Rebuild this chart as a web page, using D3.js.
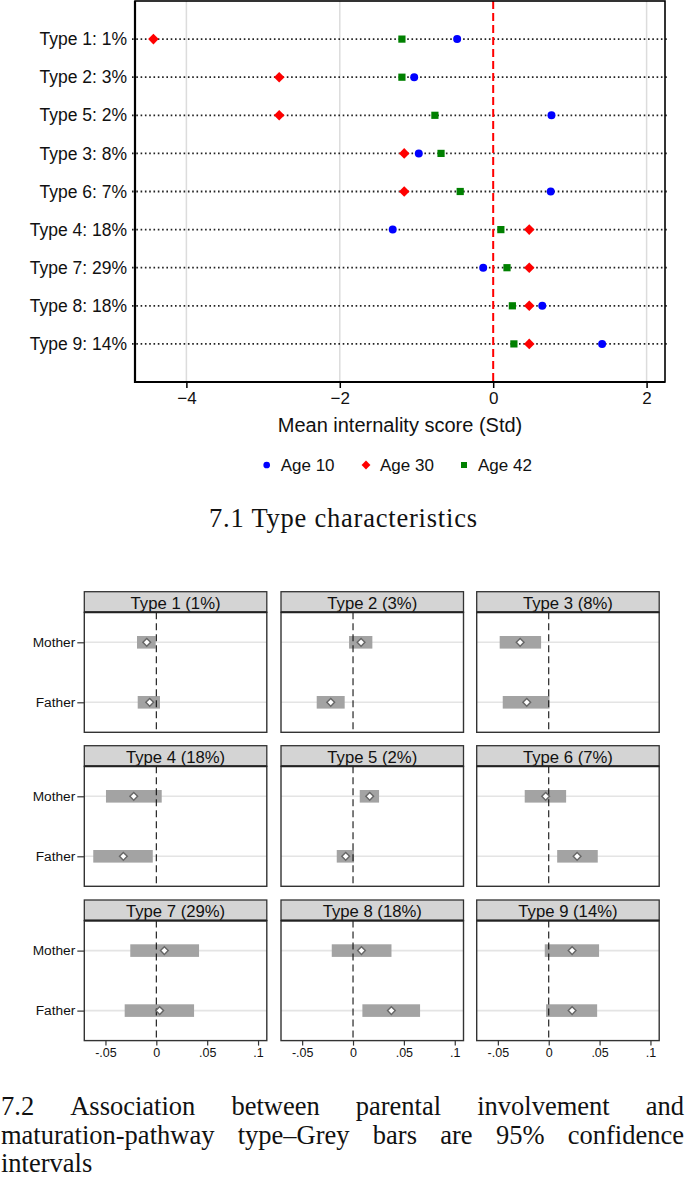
<!DOCTYPE html>
<html><head><meta charset="utf-8">
<script src="https://cdn.jsdelivr.net/npm/d3@7"></script>
<style>body{margin:0;background:#fff}svg{display:block}</style>
</head><body>
<svg id="c" width="685" height="1182"></svg>
<script>
// ---------- Data: top chart ----------
const types = ["Type 1: 1%","Type 2: 3%","Type 5: 2%","Type 3: 8%","Type 6: 7%","Type 4: 18%","Type 7: 29%","Type 8: 18%","Type 9: 14%"];
const age10 = [-0.47,-1.03,0.76,-0.97,0.75,-1.31,-0.13,0.64,1.42];
const age30 = [-4.43,-2.79,-2.79,-1.16,-1.16,0.47,0.47,0.47,0.47];
const age42 = [-1.19,-1.19,-0.76,-0.68,-0.43,0.10,0.18,0.25,0.27];
const xTicksTop = [-4,-2,0,2];
const seriesNames = ["Age 10","Age 30","Age 42"];

// ---------- Data: facets ----------
const facetTitles = ["Type 1 (1%)","Type 2 (3%)","Type 3 (8%)","Type 4 (18%)","Type 5 (2%)","Type 6 (7%)","Type 7 (29%)","Type 8 (18%)","Type 9 (14%)"];
const parents = ["Mother","Father"];
const motherEst = [-0.0094,0.0079,-0.0281,-0.0222,0.0164,-0.0030,0.0079,0.0083,0.0230];
const motherLo  = [-0.0190,-0.0039,-0.0482,-0.0495,0.0066,-0.0236,-0.0256,-0.0209,-0.0039];
const motherHi  = [-0.0006,0.0190,-0.0075,0.0053,0.0256,0.0171,0.0420,0.0378,0.0495];
const fatherEst = [-0.0065,-0.0219,-0.0216,-0.0324,-0.0072,0.0279,0.0033,0.0377,0.0230];
const fatherLo  = [-0.0183,-0.0357,-0.0452,-0.0620,-0.0160,0.0083,-0.0311,0.0092,-0.0026];
const fatherHi  = [0.0036,-0.0082,0.0007,-0.0035,0.0010,0.0482,0.0371,0.0659,0.0476];
const xTicksFacet = [-0.05,0,0.05,0.1];
const xTickLabelsFacet = ["-.05","0",".05",".1"];

const caption1 = "7.1 Type characteristics";
const caption2 = ["7.2 Association between parental involvement and","maturation-pathway type\u2013Grey bars are 95% confidence","intervals"];

const svg = d3.select("#c");
const SANS = "'Liberation Sans', Arial, sans-serif";
const SERIF = "'Liberation Serif', 'DejaVu Serif', serif";

// ---------- Top chart ----------
const T = {l:135, r:665, t:1, b:382};
const x = d3.scaleLinear().domain([-4.67,2.24]).range([T.l,T.r]);
const y = d3.scalePoint().domain(types).range([T.t,T.b]).padding(1);
const g = svg.append("g");

g.selectAll("line.grid").data(xTicksTop.filter(d=>d!==0)).join("line")
  .attr("x1",d=>x(d)).attr("x2",d=>x(d)).attr("y1",T.t).attr("y2",T.b)
  .attr("stroke","#dcdcdc").attr("stroke-width",1.5);

g.selectAll("line.row").data(types).join("line")
  .attr("x1",T.l-3).attr("x2",T.r+3).attr("y1",d=>y(d)).attr("y2",d=>y(d))
  .attr("stroke","#222").attr("stroke-width",1.8).attr("stroke-dasharray","1.6,2.7");

g.append("line").attr("x1",x(0)).attr("x2",x(0)).attr("y1",T.t).attr("y2",T.b)
  .attr("stroke","#ff0000").attr("stroke-width",2).attr("stroke-dasharray","8,4");

g.append("rect").attr("x",T.l).attr("y",T.t).attr("width",T.r-T.l).attr("height",T.b-T.t)
  .attr("fill","none").attr("stroke","#000").attr("stroke-width",1.6);
g.append("line").attr("x1",T.l).attr("x2",T.l).attr("y1",T.t).attr("y2",T.b+1).attr("stroke","#000").attr("stroke-width",2.2);
g.append("line").attr("x1",T.l-1).attr("x2",T.r).attr("y1",T.b).attr("y2",T.b).attr("stroke","#000").attr("stroke-width",2.2);

g.selectAll("text.yl").data(types).join("text")
  .attr("x",T.l-8).attr("y",d=>y(d)).attr("dy","0.35em").attr("text-anchor","end")
  .attr("font-family",SANS).attr("font-size",17.5).attr("fill","#111").text(d=>d);

const xa = g.append("g").attr("transform",`translate(0,${T.b})`)
  .call(d3.axisBottom(x).tickValues(xTicksTop).tickSize(6).tickPadding(4).tickFormat(d=>d<0?"\u2212"+Math.abs(d):d));
xa.select(".domain").remove();
xa.selectAll(".tick line").attr("stroke","#000").attr("stroke-width",1.5);
xa.selectAll("text").attr("font-family",SANS).attr("font-size",17).attr("fill","#111");
g.append("text").attr("x",400).attr("y",432).attr("text-anchor","middle")
  .attr("font-family",SANS).attr("font-size",20).attr("fill","#111").text("Mean internality score (Std)");

const symType = {"Age 10":d3.symbolCircle,"Age 30":d3.symbolSquare,"Age 42":d3.symbolSquare};
const symSize = {"Age 10":50,"Age 30":56,"Age 42":52};
const symRot = {"Age 10":0,"Age 30":45,"Age 42":0};
const col = {"Age 10":"#0000ff","Age 30":"#ff0000","Age 42":"#008000"};
const sData = {"Age 10":age10,"Age 30":age30,"Age 42":age42};
seriesNames.forEach(s=>{
  g.selectAll(null).data(sData[s]).join("path")
   .attr("d",d3.symbol().type(symType[s]).size(symSize[s])())
   .attr("transform",(d,i)=>`translate(${x(d)},${y(types[i])}) rotate(${symRot[s]})`)
   .attr("fill",col[s]);
});

// legend
const legX = [266.7,366,464];
const lg = svg.append("g");
seriesNames.forEach((s,i)=>{
  lg.append("path").attr("d",d3.symbol().type(symType[s]).size(symSize[s]*0.7)())
    .attr("transform",`translate(${legX[i]},465) rotate(${symRot[s]})`).attr("fill",col[s]);
  lg.append("text").attr("x",legX[i]+14).attr("y",465).attr("dy","0.35em")
    .attr("font-family",SANS).attr("font-size",17).attr("fill","#111").text(s);
});

// caption 1
svg.append("text").attr("x",209).attr("y",527)
  .attr("font-family",SERIF).attr("font-size",26.5).attr("fill","#111")
  .attr("textLength",268).attr("lengthAdjust","spacing").text(caption1);

// ---------- Facets ----------
const PW = 182.5, SH = 20.6, PH = 120;
const colL = [84.3,281,476.7];
const rowT = [591.7,745.7,900];
const fx = d3.scaleLinear().domain([-0.0708,0.1086]).range([0,PW]);
const fy = d3.scalePoint().domain(parents).range([0,PH]).padding(0.5);

facetTitles.forEach((title,k)=>{
  const c = k%3, r = Math.floor(k/3);
  const pg = svg.append("g").attr("transform",`translate(${colL[c]},${rowT[r]})`);
  pg.append("rect").attr("x",0).attr("y",0).attr("width",PW).attr("height",SH)
    .attr("fill","#d4d4d4").attr("stroke","#333").attr("stroke-width",1.3);
  pg.append("text").attr("x",PW/2).attr("y",SH/2+1).attr("dy","0.35em").attr("text-anchor","middle")
    .attr("font-family",SANS).attr("font-size",16.7).attr("fill","#111").text(title);
  const pl = pg.append("g").attr("transform",`translate(0,${SH})`);
  pl.selectAll("line.hg").data(parents).join("line")
    .attr("x1",0).attr("x2",PW).attr("y1",d=>fy(d)).attr("y2",d=>fy(d))
    .attr("stroke","#e4e4e4").attr("stroke-width",1.6);
  const rows = [
    {p:"Mother",lo:motherLo[k],hi:motherHi[k],e:motherEst[k]},
    {p:"Father",lo:fatherLo[k],hi:fatherHi[k],e:fatherEst[k]}
  ];
  pl.selectAll("rect.ci").data(rows).join("rect")
    .attr("x",d=>fx(d.lo)).attr("width",d=>fx(d.hi)-fx(d.lo))
    .attr("y",d=>fy(d.p)-6.3).attr("height",12.6).attr("fill","#a3a3a3");
  pl.append("line").attr("x1",fx(0)).attr("x2",fx(0)).attr("y1",0).attr("y2",PH)
    .attr("stroke","#111").attr("stroke-width",1.1).attr("stroke-dasharray","7,4");
  pl.selectAll("path.est").data(rows).join("path")
    .attr("d",d3.symbol().type(d3.symbolSquare).size(30)())
    .attr("transform",d=>`translate(${fx(d.e)},${fy(d.p)}) rotate(45)`)
    .attr("fill","#fff").attr("stroke","#666").attr("stroke-width",1.4);
  pl.append("rect").attr("x",0).attr("y",0).attr("width",PW).attr("height",PH)
    .attr("fill","none").attr("stroke","#333").attr("stroke-width",1.4);
  pl.append("line").attr("x1",0).attr("x2",PW).attr("y1",0).attr("y2",0).attr("stroke","#222").attr("stroke-width",2);
  if(c===0){
    const ya = pl.append("g").call(d3.axisLeft(fy).tickSize(7).tickPadding(2));
    ya.select(".domain").remove();
    ya.selectAll(".tick line").attr("stroke","#333").attr("stroke-width",1.2);
    ya.selectAll("text").attr("font-family",SANS).attr("font-size",13.7).attr("fill","#111");
  }
  if(r===2){
    const xg = pl.append("g").attr("transform",`translate(0,${PH})`)
      .call(d3.axisBottom(fx).tickValues(xTicksFacet).tickSize(5).tickPadding(3).tickFormat((d,i)=>xTickLabelsFacet[i]));
    xg.select(".domain").remove();
    xg.selectAll(".tick line").attr("stroke","#333").attr("stroke-width",1.2);
    xg.selectAll("text").attr("font-family",SANS).attr("font-size",12.5).attr("fill","#111");
  }
});

// caption 2 (justified)
const capY = [1115,1144,1172];
caption2.forEach((line,li)=>{
  const words = line.split(" ");
  const tg = svg.append("g");
  const ts = words.map(w=>tg.append("text").attr("y",capY[li]).attr("font-family",SERIF)
      .attr("font-size",26.5).attr("fill","#111").text(w));
  const widths = ts.map(t=>t.node().getComputedTextLength());
  const last = li===caption2.length-1;
  const total = d3.sum(widths);
  const gap = last||words.length<2 ? 7 : (684-1-total)/(words.length-1);
  let cx = 1;
  ts.forEach((t,i)=>{ t.attr("x",cx); cx += widths[i]+gap; });
});
</script>
</body></html>
